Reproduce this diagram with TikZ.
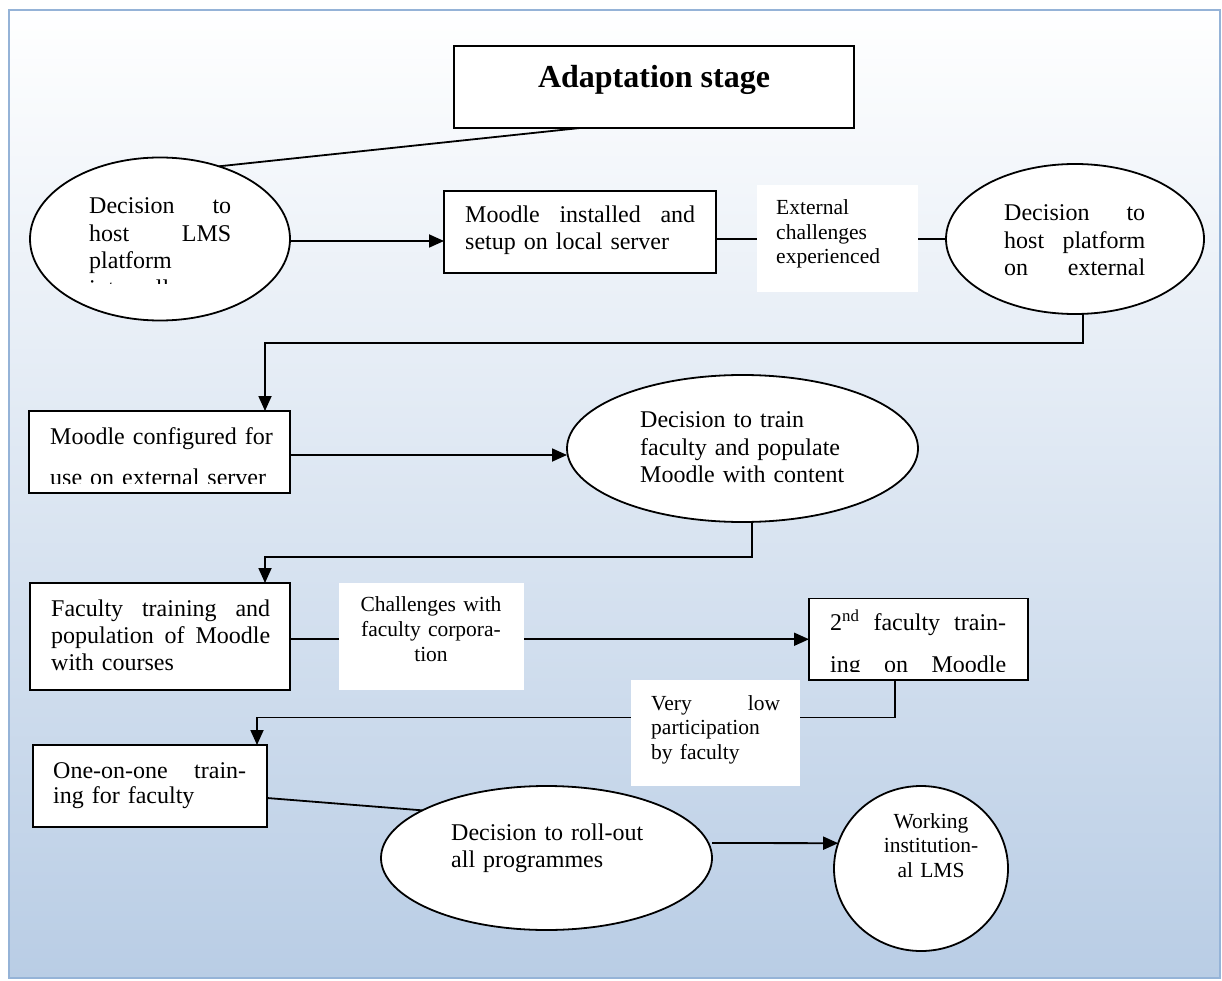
\documentclass[tikz,border=0pt]{standalone}
\usepackage{fontspec}
\setmainfont{Liberation Serif}
\usetikzlibrary{arrows.meta,shapes.geometric}
\definecolor{bgbottom}{RGB}{185,205,229}
\definecolor{bgborder}{RGB}{149,179,215}
\tikzset{
  box/.style={draw=black, line width=1.8pt, fill=white, rectangle, inner sep=0pt, outer sep=0pt, anchor=north west},
  ell/.style={draw=black, line width=1.8pt, fill=white, ellipse, inner sep=0pt, outer sep=0pt},
  lbl/.style={fill=white, rectangle, inner sep=0pt, outer sep=0pt, anchor=north west},
  txt/.style={inner sep=0pt, anchor=base west, align=left, font=\fontsize{24}{27.5}\selectfont},
  stxt/.style={inner sep=0pt, anchor=base west, align=left, font=\fontsize{21.5}{24.7}\selectfont},
  conn/.style={line width=1.8pt, draw=black},
  arr/.style={conn, -{Triangle[length=15pt,width=13pt]}},
}
\begin{document}
\begin{tikzpicture}[x=1pt,y=-1pt]
\useasboundingbox (0,0) rectangle (1222,981);
% background panel
\shade[top color=white, bottom color=bgbottom] (9,10) rectangle (1220,978);
\draw[bgborder, line width=2.5pt] (9,10) rectangle (1220,978);

% shapes
\node[box, minimum width=400pt, minimum height=82pt] (title) at (454,46) {};
\node[ell, minimum width=260pt, minimum height=163pt] (e1) at (160,239) {};
\node[box, minimum width=272pt, minimum height=82pt] (b2) at (444,191) {};
\node[ell, minimum width=258pt, minimum height=150pt] (e3) at (1075,239) {};
\node[box, minimum width=261pt, minimum height=82pt] (b4) at (29,411) {};
\node[ell, minimum width=351pt, minimum height=147pt] (e5) at (742.5,448.5) {};
\node[box, minimum width=260pt, minimum height=107pt] (b6) at (30,583) {};
\node[box, minimum width=219pt, minimum height=81.5pt] (b7) at (809,598.5) {};
\node[box, minimum width=234pt, minimum height=82pt] (b8) at (33,745) {};
\node[ell, minimum width=331pt, minimum height=144pt] (e9) at (546.5,858) {};
\node[ell, minimum width=174pt, minimum height=165pt] (e10) at (921,868.5) {};

% connectors
\coordinate (c1) at (265,343);
\coordinate (c2) at (265,557);
\coordinate (c3) at (257,717.5);
\draw[conn] (e1.51) -- ([xshift=126pt]title.south west);
\draw[arr] ([yshift=-2pt]e1.east) -- ([yshift=-2pt]e1.east -| b2.west);
\draw[arr] ([xshift=8pt]e3.south) |- (c1) -- (c1 |- b4.north);
\draw[arr] ([yshift=-3pt]b4.east) -- ([yshift=-3pt]b4.east -| e5.west);
\draw[arr] ([xshift=9.5pt]e5.south) |- (c2) -- (c2 |- b6.north);
\draw[arr] ([xshift=-23.5pt]b7.south) |- (c3) -- (c3 |- b8.north);
\draw[conn] ([yshift=-12pt]b8.east) -- (e9.159.5);
\draw[arr] ([yshift=15pt]e9.east) -- (e10.163);

% labels on connectors
\node[lbl, minimum width=161pt, minimum height=107pt] (l1) at (757,185) {};
\node[lbl, minimum width=185pt, minimum height=107pt] (l2) at (339,583) {};
\node[lbl, minimum width=169pt, minimum height=106pt] (l3) at (631,680) {};
\draw[conn] (b2.east |- e3.west) -- (l1.west |- e3.west);
\draw[conn] (l1.east |- e3.west) -- (e3.west);
\draw[conn] (b6.east |- b7.west) -- (l2.west |- b7.west);
\draw[arr] (l2.east |- b7.west) -- (b7.west);

% texts
\node[inner sep=0pt, anchor=base, font=\fontsize{32}{36}\selectfont\bfseries] (tt) at (654,88) {Adaptation stage};
\begin{scope}
\clip (80,190) rectangle (240,283.5);
\node[txt, text width=142pt] (t1) at (89,214) {Decision\hfill to\\host\hfill LMS\\platform\\internally};
\end{scope}
\node[txt, text width=230pt] (t2) at (465,222.5) {Moodle\hfill installed\hfill and\\setup on local server};
\node[stxt, text width=142pt] (tl1) at (776,214.5) {External\\challenges\\experienced};
\node[txt, text width=141pt] (t3) at (1004,221) {Decision\hfill to\\host\hfill platform\\on\hfill external};
\begin{scope}
\clip (40,420) rectangle (285,483.5);
\node[txt, text width=240pt, font=\fontsize{24}{40.5}\selectfont] (t4) at (50,444.5) {Moodle configured for\\use on external server};
\end{scope}
\node[txt, text width=270pt] (t5) at (640,427.5) {Decision to train\\faculty and populate\\Moodle with content};
\node[txt, text width=219pt, font=\fontsize{24}{26.7}\selectfont] (t6) at (51,616.7) {Faculty\hfill training\hfill and\\population\hfill of\hfill Moodle\\with courses};
\node[stxt, text width=170pt, align=center, anchor=base] (tl2) at (431,611.7) {Challenges with\\faculty corpora-\\tion};
\begin{scope}
\clip (815,605) rectangle (1020,671.5);
\node[txt, text width=176pt, font=\fontsize{24}{42}\selectfont] (t7) at (830,630.7) {2\textsuperscript{nd}\hfill faculty\hfill train-\\ing\hfill on\hfill Moodle};
\end{scope}
\node[stxt, text width=129pt] (tl3) at (651,710) {Very\hfill low\\participation\\by faculty};
\node[txt, text width=193pt, font=\fontsize{24}{25.5}\selectfont] (t8) at (53,778.3) {One-on-one\hfill train-\\ing for faculty};
\node[txt, text width=210pt, font=\fontsize{24}{27}\selectfont] (t9) at (451,840) {Decision to roll-out\\all programmes};
\node[stxt, text width=120pt, align=center, anchor=base] (tl4) at (931,828) {Working\\institution-\\al LMS};
\end{tikzpicture}
\end{document}
